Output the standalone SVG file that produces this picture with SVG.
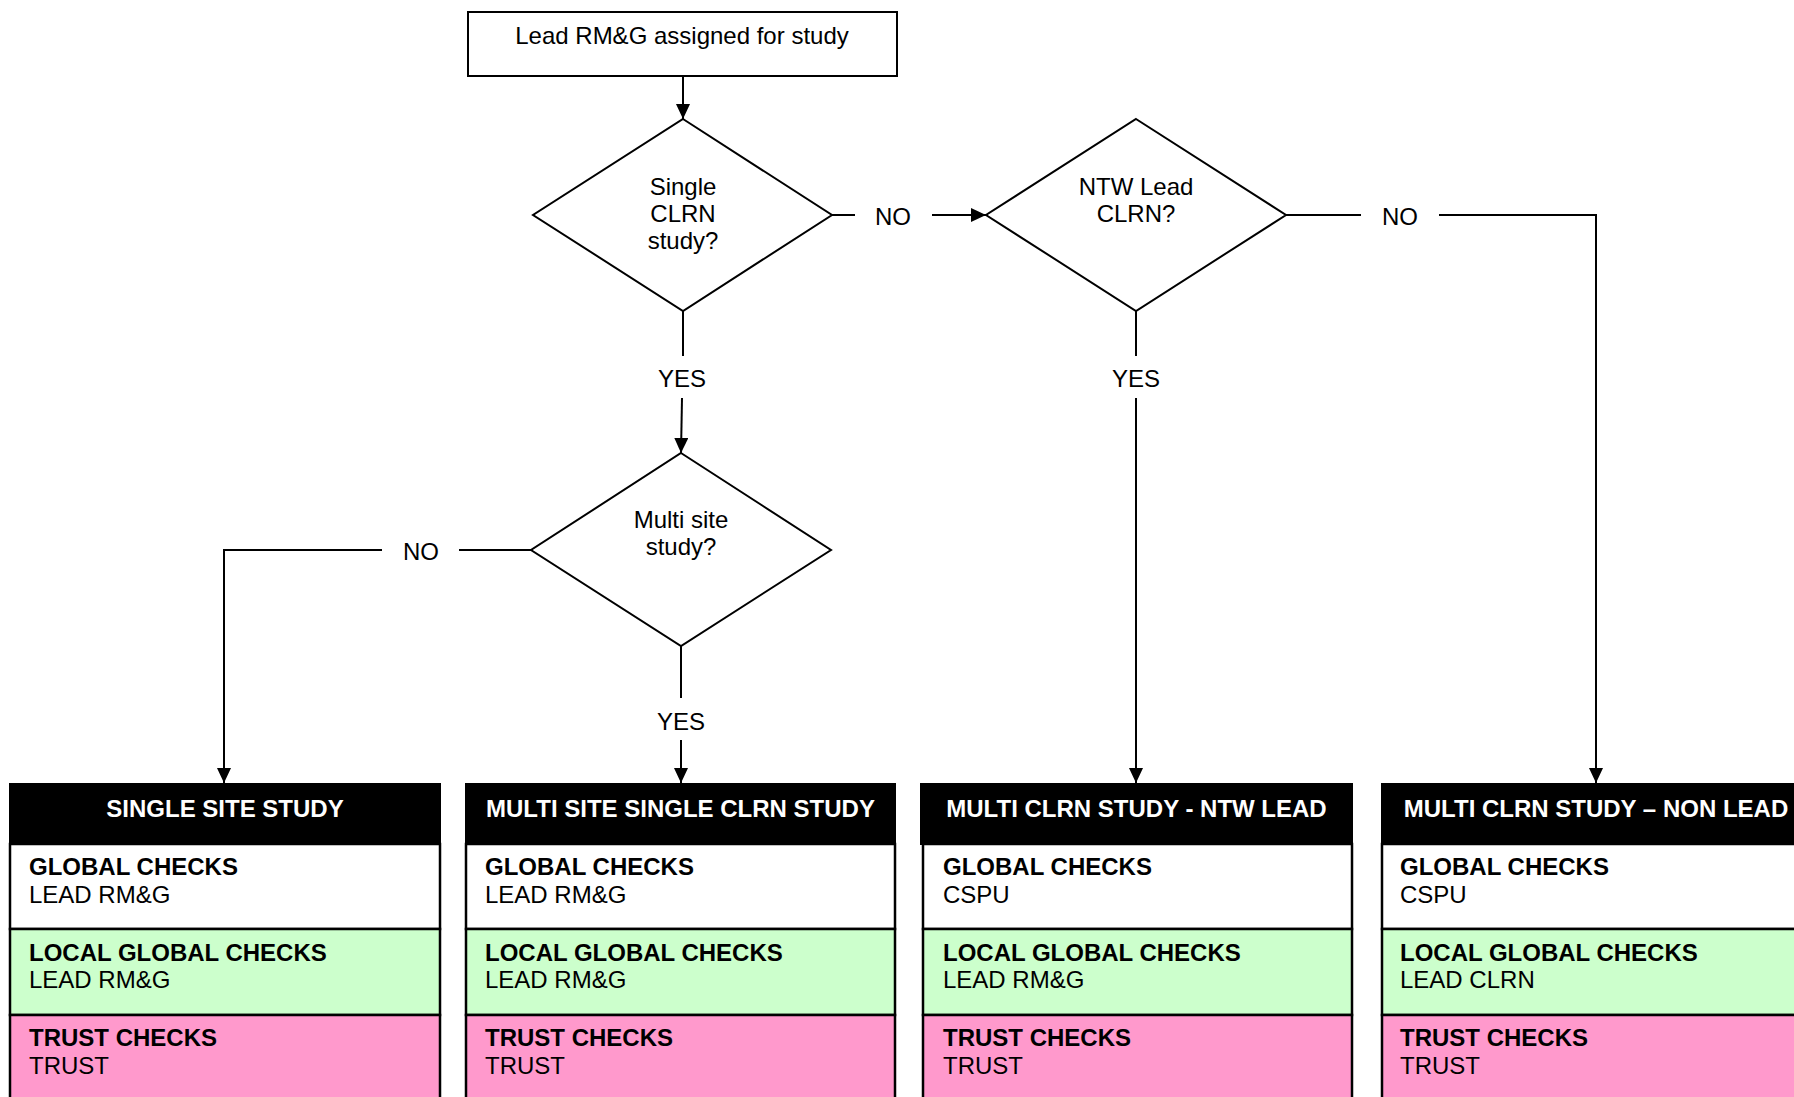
<svg xmlns="http://www.w3.org/2000/svg" width="1794" height="1097" viewBox="0 0 1794 1097">
<defs>
<marker id="ah" viewBox="0 0 15 14" refX="15" refY="7" markerWidth="15" markerHeight="14" markerUnits="userSpaceOnUse" orient="auto">
<path d="M0,0 L15,7 L0,14 z" fill="#000"/>
</marker>
<style>
text{font-family:"Liberation Sans",Arial,sans-serif;font-size:24px;fill:#000}
.c{text-anchor:middle}
.b{font-weight:bold}
.h{font-weight:bold;fill:#fff;text-anchor:middle}
.ln{fill:none;stroke:#000;stroke-width:2}
.ar{fill:none;stroke:#000;stroke-width:2;marker-end:url(#ah)}
.shape{fill:#fff;stroke:#000;stroke-width:2}
.hd{fill:#000;stroke:#000;stroke-width:2}
.g{fill:#fff;stroke:#000;stroke-width:2.5}
.lg{fill:#CCFFCC;stroke:#000;stroke-width:2.5}
.tr{fill:#FF99CC;stroke:#000;stroke-width:2.5}
</style>
</defs>
<rect width="1794" height="1097" fill="#fff"/>

<g id="connectors">
<path class="ar" d="M683,77 V119"/>
<path class="ln" d="M832,215 H855"/>
<path class="ar" d="M932,215 H986"/>
<path class="ln" d="M1286,215 H1361"/>
<path class="ar" d="M1439,215 H1596 V783"/>
<path class="ln" d="M683,311 V356"/>
<path class="ar" d="M682,398 L681,453"/>
<path class="ln" d="M1136,311 V356"/>
<path class="ar" d="M1136,398 V783"/>
<path class="ln" d="M531,550 H459"/>
<path class="ar" d="M382,550 H224 V783"/>
<path class="ln" d="M681,646 V698"/>
<path class="ar" d="M681,740 V783"/>
<text class="c" x="893" y="225">NO</text>
<text class="c" x="1400" y="225">NO</text>
<text class="c" x="682" y="387">YES</text>
<text class="c" x="1136" y="387">YES</text>
<text class="c" x="421" y="560">NO</text>
<text class="c" x="681" y="730">YES</text>
</g>

<g id="start">
<rect class="shape" x="468" y="12" width="429" height="64"/>
<text class="c" x="682" y="44">Lead RM&amp;G assigned for study</text>
</g>

<g id="single-clrn">
<path class="shape" d="M683,119 L832,215 L683,311 L533,215 Z"/>
<text class="c" x="683" y="195">Single</text>
<text class="c" x="683" y="222">CLRN</text>
<text class="c" x="683" y="249">study?</text>
</g>

<g id="ntw-lead">
<path class="shape" d="M1136,119 L1286,215 L1136,311 L986,215 Z"/>
<text class="c" x="1136" y="195">NTW Lead</text>
<text class="c" x="1136" y="222">CLRN?</text>
</g>

<g id="multi-site">
<path class="shape" d="M681,453 L831,550 L681,646 L531,550 Z"/>
<text class="c" x="681" y="528">Multi site</text>
<text class="c" x="681" y="555">study?</text>
</g>

<g id="box-single-site">
<rect class="hd" x="10" y="784" width="430" height="60"/>
<text class="h" x="225" y="817">SINGLE SITE STUDY</text>
<rect class="g" x="10" y="844" width="430" height="85"/>
<text class="b" x="29" y="875">GLOBAL CHECKS</text>
<text x="29" y="903">LEAD RM&amp;G</text>
<rect class="lg" x="10" y="929" width="430" height="86"/>
<text class="b" x="29" y="961">LOCAL GLOBAL CHECKS</text>
<text x="29" y="988">LEAD RM&amp;G</text>
<rect class="tr" x="10" y="1015" width="430" height="100"/>
<text class="b" x="29" y="1046">TRUST CHECKS</text>
<text x="29" y="1074">TRUST</text>
</g>

<g id="box-multi-site-single-clrn">
<rect class="hd" x="466" y="784" width="429" height="60"/>
<text class="h" x="680.5" y="817">MULTI SITE SINGLE CLRN STUDY</text>
<rect class="g" x="466" y="844" width="429" height="85"/>
<text class="b" x="485" y="875">GLOBAL CHECKS</text>
<text x="485" y="903">LEAD RM&amp;G</text>
<rect class="lg" x="466" y="929" width="429" height="86"/>
<text class="b" x="485" y="961">LOCAL GLOBAL CHECKS</text>
<text x="485" y="988">LEAD RM&amp;G</text>
<rect class="tr" x="466" y="1015" width="429" height="100"/>
<text class="b" x="485" y="1046">TRUST CHECKS</text>
<text x="485" y="1074">TRUST</text>
</g>

<g id="box-multi-clrn-ntw-lead">
<rect class="hd" x="921" y="784" width="431" height="60"/>
<text class="h" x="1136.5" y="817">MULTI CLRN STUDY - NTW LEAD</text>
<rect class="g" x="923" y="844" width="429" height="85"/>
<text class="b" x="943" y="875">GLOBAL CHECKS</text>
<text x="943" y="903">CSPU</text>
<rect class="lg" x="923" y="929" width="429" height="86"/>
<text class="b" x="943" y="961">LOCAL GLOBAL CHECKS</text>
<text x="943" y="988">LEAD RM&amp;G</text>
<rect class="tr" x="923" y="1015" width="429" height="100"/>
<text class="b" x="943" y="1046">TRUST CHECKS</text>
<text x="943" y="1074">TRUST</text>
</g>

<g id="box-multi-clrn-non-lead">
<rect class="hd" x="1382" y="784" width="430" height="60"/>
<text class="h" x="1596" y="817">MULTI CLRN STUDY – NON LEAD</text>
<rect class="g" x="1382" y="844" width="430" height="85"/>
<text class="b" x="1400" y="875">GLOBAL CHECKS</text>
<text x="1400" y="903">CSPU</text>
<rect class="lg" x="1382" y="929" width="430" height="86"/>
<text class="b" x="1400" y="961">LOCAL GLOBAL CHECKS</text>
<text x="1400" y="988">LEAD CLRN</text>
<rect class="tr" x="1382" y="1015" width="430" height="100"/>
<text class="b" x="1400" y="1046">TRUST CHECKS</text>
<text x="1400" y="1074">TRUST</text>
</g>
</svg>
